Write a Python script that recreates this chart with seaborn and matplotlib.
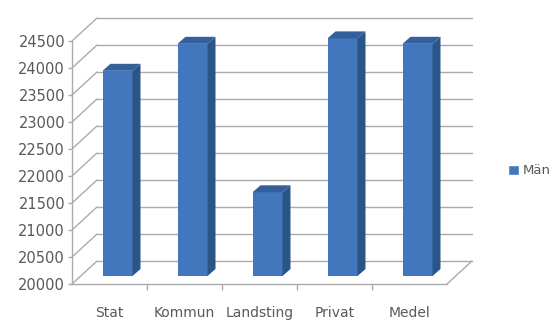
import numpy as np
import pandas as pd
import matplotlib
matplotlib.use("Agg")
import matplotlib.pyplot as plt
from matplotlib.transforms import offset_copy, IdentityTransform
from matplotlib.patches import Polygon
import seaborn as sns

# Data
categories = ["Stat", "Kommun", "Landsting", "Privat", "Medel"]
values = [23800, 24300, 21550, 24400, 24300]
series_name = "Män"
y_ticks = [20000, 20500, 21000, 21500, 22000, 22500, 23000, 23500, 24000, 24500]

df = pd.DataFrame({"Sektor": categories, "Lön": values, "Kön": series_name})

sns.set_style("white")
plt.rcParams["font.family"] = ["DejaVu Sans"]

FRONT = "#4277BD"
SIDE = "#2B5487"
TOP = "#345F9B"
GRID = "#ABABAB"
TEXT = "#595959"

W, H, DPI = 555, 322, 100
fig = plt.figure(figsize=(W / DPI, H / DPI), dpi=DPI)
# axes = front plane of the 3-D box
left_px, right_px, bottom_px, top_px = 72, 447, 284, 41
ax = fig.add_axes([left_px / W, 1 - bottom_px / H,
                   (right_px - left_px) / W, (bottom_px - top_px) / H])

ymin, ymax = y_ticks[0], y_ticks[-1]
sns.barplot(data=df, x="Sektor", y="Lön", hue="Kön", palette=[FRONT],
            width=0.4, ax=ax, saturation=1, legend=True, zorder=3)
ax.set_xlim(-0.5, len(categories) - 0.5)
ax.set_ylim(ymin, ymax)

# depth offsets in pixels
wall = (25, 23)
bar_front = (8, 8)
bar_depth = (8, 7)

back_tr = offset_copy(ax.transData, fig=fig, x=wall[0], y=wall[1], units="dots")
xl, xr = ax.get_xlim()

# back wall gridlines and left-wall diagonals
for v in y_ticks:
    ax.plot([xl, xr], [v, v], color=GRID, lw=1, transform=back_tr,
            clip_on=False, zorder=1)
    p0 = ax.transData.transform((xl, v))
    ax.plot([p0[0], p0[0] + wall[0]], [p0[1], p0[1] + wall[1]], color=GRID,
            lw=1, transform=IdentityTransform(), clip_on=False, zorder=1)
# floor right edge
p0 = ax.transData.transform((xr, ymin))
ax.plot([p0[0], p0[0] + wall[0]], [p0[1], p0[1] + wall[1]], color=GRID,
        lw=1, transform=IdentityTransform(), clip_on=False, zorder=1)

# bars: front faces shifted into depth, then side and top faces
front_tr = offset_copy(ax.transData, fig=fig, x=bar_front[0], y=bar_front[1],
                       units="dots")
bars = [b for c in ax.containers for b in c]
for p in bars:
    val = p.get_height()
    p.set_y(ymin)
    p.set_height(val - ymin)
    p.set_transform(front_tr)
    p.set_clip_on(False)
    p.set_edgecolor("none")
    x0, x1 = p.get_x(), p.get_x() + p.get_width()
    (ax0, ay0) = front_tr.transform((x0, ymin))
    (ax1, ay1) = front_tr.transform((x1, val))
    dx, dy = bar_depth
    side = Polygon([(ax1, ay0), (ax1, ay1), (ax1 + dx, ay1 + dy), (ax1 + dx, ay0 + dy)],
                   closed=True, facecolor=SIDE, edgecolor="none",
                   transform=IdentityTransform(), clip_on=False, zorder=3)
    top = Polygon([(ax0, ay1), (ax1, ay1), (ax1 + dx, ay1 + dy), (ax0 + dx, ay1 + dy)],
                  closed=True, facecolor=TOP, edgecolor="none",
                  transform=IdentityTransform(), clip_on=False, zorder=3)
    ax.add_patch(side)
    ax.add_patch(top)

# axes styling
for s in ["top", "right"]:
    ax.spines[s].set_visible(False)
for s in ["left", "bottom"]:
    ax.spines[s].set_color(GRID)
    ax.spines[s].set_linewidth(1)
    ax.spines[s].set_zorder(1)

ax.set_yticks(y_ticks)
ax.set_yticklabels([str(v) for v in y_ticks])
ax.tick_params(axis="y", length=3, width=1, color=GRID, pad=2,
               labelsize=10.5, labelcolor=TEXT, left=True)
ax.set_xticks(range(len(categories)))
ax.set_xticklabels(categories)
ax.set_xticks([i + 0.5 for i in range(len(categories) - 1)], minor=True)
ax.tick_params(axis="x", which="major", length=0, pad=16,
               labelsize=10, labelcolor=TEXT)
ax.tick_params(axis="x", which="minor", length=4, width=1, color=GRID,
               bottom=True)
ax.set_xlabel("")
ax.set_ylabel("")
ax.grid(False)

sns.move_legend(ax, "center left", bbox_to_anchor=(508 / W, 1 - 171 / H),
                bbox_transform=fig.transFigure, frameon=False, title=None,
                handlelength=0.8, handleheight=0.8, handletextpad=0.3,
                borderpad=0, borderaxespad=0, fontsize=9.5, labelcolor=TEXT)

fig.savefig("out.png", dpi=DPI)
